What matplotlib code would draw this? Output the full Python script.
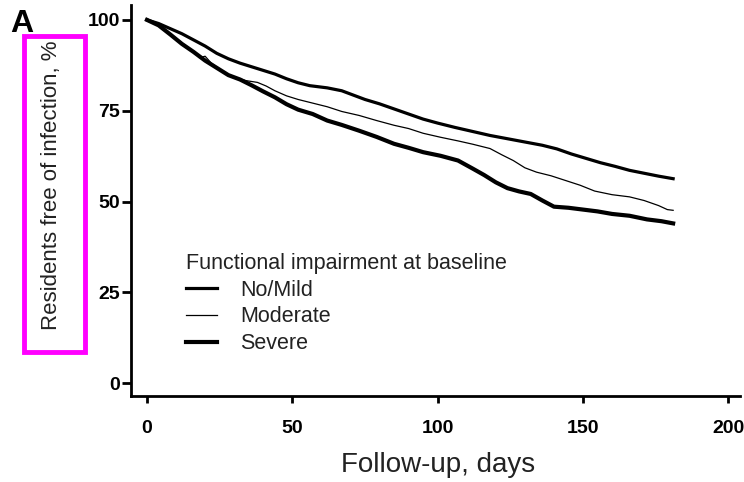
import matplotlib
matplotlib.use("Agg")
import matplotlib.pyplot as plt
from matplotlib.patches import Rectangle

# Kaplan-Meier style curves (days, % free of infection)
days_mild = [0, 4, 8, 12, 16, 20, 24, 28, 32, 36, 40, 44, 48, 52, 56, 62, 67,
             71, 75, 80, 85, 90, 95, 100, 106, 112, 118, 124, 130, 136, 141,
             146, 151, 156, 161, 166, 171, 176, 181]
free_mild = [100, 99, 97.6, 96.2, 94.5, 92.8, 90.8, 89.3, 88.1, 87.1, 86.1,
             85.1, 83.8, 82.7, 81.9, 81.3, 80.5, 79.3, 78.1, 76.9, 75.5, 74.1,
             72.7, 71.6, 70.4, 69.3, 68.2, 67.3, 66.4, 65.5, 64.5, 63.1, 61.9,
             60.7, 59.7, 58.6, 57.8, 57.0, 56.3]

days_mod = [0, 4, 8, 12, 16, 18, 20, 22, 26, 30, 34, 38, 41, 44, 48, 52, 57,
            62, 67, 73, 79, 85, 90, 95, 101, 107, 112, 118, 122, 126, 130, 134,
            139, 144, 149, 154, 160, 166, 171, 176, 179, 181]
free_mod = [100, 98.6, 96.2, 93.7, 91.2, 89.6, 90.0, 88.2, 85.8, 84.3, 83.3,
            82.8, 81.8, 80.5, 79.1, 78.1, 77.1, 76.1, 74.8, 73.7, 72.3, 71.0,
            70.1, 68.8, 67.7, 66.7, 65.8, 64.6, 62.9, 61.3, 59.3, 58.1, 57.1,
            55.8, 54.5, 52.9, 51.9, 51.3, 50.3, 48.9, 47.8, 47.6]

days_sev = [0, 4, 8, 12, 16, 20, 24, 28, 32, 36, 40, 44, 48, 52, 57, 62, 67,
            73, 79, 85, 90, 95, 101, 107, 112, 116, 120, 124, 128, 132, 136,
            140, 145, 150, 155, 160, 166, 172, 177, 181]
free_sev = [100, 98.5, 96.0, 93.4, 91.2, 88.8, 86.8, 84.8, 83.6, 82.0, 80.3,
            78.7, 76.8, 75.3, 74.1, 72.3, 71.1, 69.5, 67.8, 65.9, 64.8, 63.6,
            62.6, 61.3, 59.1, 57.3, 55.3, 53.7, 52.8, 52.1, 50.3, 48.6, 48.3,
            47.8, 47.3, 46.6, 46.1, 45.1, 44.6, 44.0]

x_ticks = [0, 50, 100, 150, 200]
y_ticks = [0, 25, 50, 75, 100]
legend_labels = ["No/Mild", "Moderate", "Severe"]


def main():
    fig = plt.figure(figsize=(7.44, 4.82), dpi=100)
    ax = fig.add_axes([131 / 744, 1 - 396 / 482, 609 / 744, 391 / 482])

    ax.plot(days_mild, free_mild, color="black", lw=2.3,
            solid_joinstyle="round", label=legend_labels[0])
    ax.plot(days_mod, free_mod, color="black", lw=0.9,
            solid_joinstyle="round", label=legend_labels[1])
    ax.plot(days_sev, free_sev, color="black", lw=3.0,
            solid_joinstyle="round", label=legend_labels[2])

    ax.set_xlim(-5.5, 204)
    ax.set_ylim(-3.5, 104.1)
    ax.spines["top"].set_visible(False)
    ax.spines["right"].set_visible(False)
    for s in ("left", "bottom"):
        ax.spines[s].set_linewidth(2.0)

    ax.set_xticks(x_ticks)
    ax.set_yticks(y_ticks)
    ax.tick_params(axis="y", length=6.5, width=2, pad=1.5)
    ax.tick_params(axis="x", length=5, width=2, pad=12)
    for lab in ax.get_xticklabels() + ax.get_yticklabels():
        lab.set_fontweight("bold")
        lab.set_fontsize(14)
        lab.set_family("Liberation Sans")

    leg = ax.legend(loc="upper left", bbox_to_anchor=(0.091, 0.365),
                    frameon=False, title="Functional impairment at baseline",
                    alignment="left", title_fontsize=15.5,
                    handlelength=1.4, handletextpad=1.1, labelspacing=0.26,
                    borderpad=0, borderaxespad=0,
                    prop={"family": "Liberation Sans", "size": 15.5})
    leg.get_title().set_family("Liberation Sans")
    leg.get_title().set_color("#222222")
    for t in leg.get_texts():
        t.set_color("#222222")

    fig.text(438 / 744, 1 - 465 / 482, "Follow-up, days", ha="center",
             va="center", fontsize=20, family="Liberation Sans", color="#222222")
    fig.text(52 / 744, 1 - 185 / 482, "Residents free of infection, %",
             rotation=90, ha="center", va="center", fontsize=16,
             family="Liberation Sans", color="#222222")
    fig.text(10 / 744, 1 - 32 / 482, "A", ha="left", va="baseline",
             fontsize=23, fontweight="bold", family="Liberation Sans")

    # magenta highlight box around the y label
    fig.patches.append(Rectangle((24 / 744, 1 - 352 / 482), 61 / 744,
                                 316 / 482, transform=fig.transFigure,
                                 fill=False, edgecolor="#ff00ff", lw=3.5))

    fig.savefig("out.png", dpi=100)


if __name__ == "__main__":
    main()
